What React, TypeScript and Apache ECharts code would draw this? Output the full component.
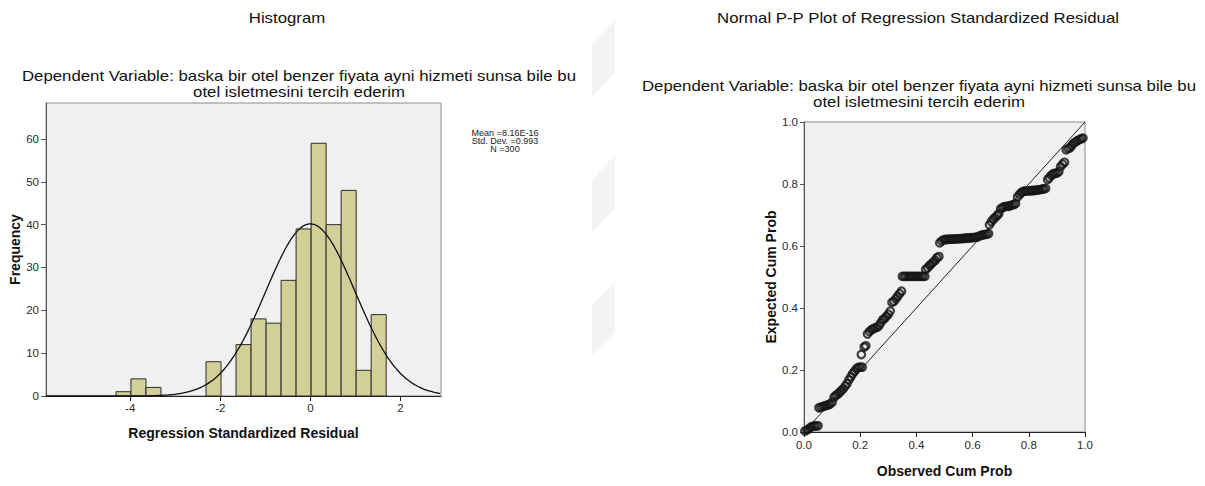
import { useEffect, useRef } from "react";
import * as echarts from "echarts";

// ---- Histogram data ----
const histCounts = [1, 4, 2, 0, 0, 0, 8, 0, 12, 18, 17, 27, 39, 59, 40, 48, 6, 19];
const binStart = -4.317;
const binWidth = 1 / 3;
const histXTicks = [-4, -2, 0, 2];
const histYTicks = [0, 10, 20, 30, 40, 50, 60];
const statMean = 8.16e-16;
const statSd = 0.993;
const statN = 300;
const statLines = ["Mean =8.16E-16", "Std. Dev. =0.993", "N =300"];

// ---- P-P plot data ----
const ppObserved = [
  0.003, 0.01, 0.017, 0.023, 0.03, 0.037, 0.043, 0.05,
  0.053, 0.06, 0.067, 0.073, 0.08, 0.087, 0.093, 0.1, 0.107, 0.113, 0.12, 0.127, 0.133, 0.14, 0.147, 0.153, 0.16, 0.167, 0.173, 0.18, 0.187, 0.193, 0.2, 0.207,
  0.204,
  0.214, 0.22,
  0.226, 0.233, 0.24, 0.247, 0.253, 0.26, 0.267, 0.273, 0.28, 0.287, 0.293, 0.3, 0.307, 0.313, 0.32, 0.327, 0.333, 0.34, 0.347,
  0.35, 0.357, 0.363, 0.37, 0.377, 0.383, 0.39, 0.397, 0.403, 0.41, 0.417, 0.423, 0.43,
  0.433, 0.44, 0.447, 0.453, 0.46, 0.467, 0.473, 0.48,
  0.483, 0.49, 0.497, 0.503, 0.51, 0.517, 0.523, 0.53, 0.537, 0.543, 0.55, 0.557, 0.563, 0.57, 0.577, 0.583, 0.59, 0.597, 0.603, 0.61, 0.617,
  0.623, 0.63, 0.637, 0.643, 0.65, 0.657,
  0.66, 0.667, 0.673, 0.68, 0.687, 0.693, 0.7, 0.707, 0.713, 0.72, 0.727, 0.733, 0.74, 0.747, 0.753,
  0.76, 0.767, 0.773, 0.78, 0.787, 0.793, 0.8, 0.807, 0.813, 0.82, 0.827, 0.833, 0.84, 0.847, 0.853, 0.86,
  0.867, 0.873, 0.88, 0.887, 0.893, 0.9, 0.907, 0.913, 0.92, 0.927,
  0.933, 0.94, 0.947, 0.953, 0.96, 0.967, 0.973, 0.98, 0.987, 0.993,
];
const ppExpected = [
  0.003, 0.006, 0.01, 0.015, 0.018, 0.019, 0.02, 0.02,
  0.078, 0.08, 0.082, 0.084, 0.086, 0.088, 0.09, 0.096, 0.112, 0.118, 0.122, 0.128, 0.134, 0.14, 0.148, 0.156, 0.168, 0.178, 0.188, 0.196, 0.204, 0.208, 0.209, 0.209,
  0.25,
  0.274, 0.278,
  0.316, 0.324, 0.33, 0.333, 0.336, 0.338, 0.343, 0.352, 0.362, 0.366, 0.373, 0.38, 0.39, 0.418, 0.422, 0.43, 0.438, 0.446, 0.454,
  0.502, 0.502, 0.502, 0.502, 0.502, 0.502, 0.502, 0.502, 0.502, 0.502, 0.502, 0.502, 0.502,
  0.524, 0.53, 0.537, 0.542, 0.548, 0.554, 0.562, 0.566,
  0.61, 0.616, 0.62, 0.621, 0.621, 0.622, 0.622, 0.622, 0.623, 0.623, 0.623, 0.624, 0.624, 0.625, 0.625, 0.626, 0.626, 0.627, 0.627, 0.628, 0.629,
  0.632, 0.634, 0.636, 0.637, 0.638, 0.64,
  0.668, 0.678, 0.686, 0.692, 0.698, 0.704, 0.72, 0.724, 0.727, 0.728, 0.728, 0.73, 0.732, 0.734, 0.737,
  0.758, 0.766, 0.772, 0.776, 0.777, 0.777, 0.778, 0.778, 0.779, 0.779, 0.78, 0.781, 0.782, 0.783, 0.784, 0.786,
  0.814, 0.82, 0.828, 0.833, 0.834, 0.835, 0.84, 0.856, 0.864, 0.87,
  0.91, 0.914, 0.917, 0.925, 0.932, 0.936, 0.94, 0.943, 0.946, 0.948,
];
const ppTicks = [0, 0.2, 0.4, 0.6, 0.8, 1.0];
const diagonal = [
  [0, 0],
  [1, 1],
];

const FONT = "'Liberation Sans', Arial, sans-serif";
const subtitle = "Dependent Variable: baska bir otel benzer fiyata ayni hizmeti sunsa bile bu\notel isletmesini tercih ederim";

export default function App() {
  const ref = useRef<HTMLDivElement>(null);

  useEffect(() => {
    if (!ref.current) return;
    const chart = echarts.init(ref.current, null, { renderer: "svg" });

    const xMin = -5.87;
    const xMax = 2.9;
    const curve: number[][] = [];
    for (let x = xMin; x <= xMax + 1e-9; x += 0.05) {
      const z = (x - statMean) / statSd;
      const y = (statN * binWidth * Math.exp(-0.5 * z * z)) / (statSd * Math.sqrt(2 * Math.PI));
      curve.push([x, y]);
    }

    const bins = histCounts
      .map((c, i) => [binStart + i * binWidth, binStart + (i + 1) * binWidth, c])
      .filter((b) => b[2] > 0);

    const ppData = ppObserved.map((x, i) => [x, ppExpected[i]]);

    const labelStyle = { color: "#2a2a2a", fontSize: 11.5, fontFamily: FONT };
    const nameStyle = { color: "#111", fontSize: 14, fontWeight: "bold" as const, fontFamily: FONT };

    const watermark = [
      [[592, 43], [615, 20], [615, 73], [592, 97]],
      [[592, 180], [615, 155], [615, 208], [592, 233]],
      [[592, 305], [615, 282], [615, 333], [592, 355]],
    ];

    const headText = (text: string, x: number, y: number) => ({
      type: "text",
      x,
      y,
      scaleX: 1.2,
      style: { text, fill: "#111", font: `14px ${FONT}`, lineHeight: 16, align: "center", verticalAlign: "middle" },
    });

    chart.setOption({
      animation: false,
      backgroundColor: "#ffffff",
      textStyle: { fontFamily: FONT },
      grid: [
        { left: 46, top: 103, width: 395, height: 293, show: true, backgroundColor: "#f0f0f0", borderColor: "#8c8c8c", borderWidth: 1 },
        { left: 804, top: 122, width: 281, height: 310, show: true, backgroundColor: "#f0f0f0", borderColor: "#8c8c8c", borderWidth: 1 },
      ],
      xAxis: [
        {
          type: "value", gridIndex: 0, min: xMin, max: xMax,
          axisLine: { show: true, onZero: false, lineStyle: { color: "#222" } },
          axisTick: { show: true, length: 5, customValues: histXTicks, lineStyle: { color: "#222" } },
          axisLabel: { customValues: histXTicks, margin: 6, ...labelStyle },
          splitLine: { show: false },
          name: "Regression Standardized Residual", nameLocation: "middle", nameGap: 30, nameTextStyle: nameStyle,
        },
        {
          type: "value", gridIndex: 1, min: 0, max: 1,
          axisLine: { show: true, onZero: false, lineStyle: { color: "#222" } },
          axisTick: { show: true, length: 5, customValues: ppTicks, lineStyle: { color: "#222" } },
          axisLabel: { customValues: ppTicks, margin: 7, formatter: (v: number) => v.toFixed(1), ...labelStyle },
          splitLine: { show: false },
          name: "Observed Cum Prob", nameLocation: "middle", nameGap: 32, nameTextStyle: nameStyle,
        },
      ],
      yAxis: [
        {
          type: "value", gridIndex: 0, min: 0, max: 68.4,
          axisLine: { show: true, onZero: false, lineStyle: { color: "#555" } },
          axisTick: { show: true, length: 5, customValues: histYTicks, lineStyle: { color: "#555" } },
          axisLabel: { customValues: histYTicks, margin: 7, ...labelStyle },
          splitLine: { show: false },
          name: "Frequency", nameLocation: "middle", nameGap: 24, nameTextStyle: nameStyle,
        },
        {
          type: "value", gridIndex: 1, min: 0, max: 1,
          axisLine: { show: true, onZero: false, lineStyle: { color: "#555" } },
          axisTick: { show: true, length: 4, customValues: ppTicks, lineStyle: { color: "#555" } },
          axisLabel: { customValues: ppTicks, margin: 6, formatter: (v: number) => v.toFixed(1), ...labelStyle },
          splitLine: { show: false },
          name: "Expected Cum Prob", nameLocation: "middle", nameGap: 26, nameTextStyle: nameStyle,
        },
      ],
      series: [
        {
          type: "custom", xAxisIndex: 0, yAxisIndex: 0, z: 2,
          data: bins,
          encode: { x: [0, 1], y: 2 },
          renderItem: (_p: any, api: any) => {
            const p0 = api.coord([api.value(0), api.value(2)]);
            const p1 = api.coord([api.value(1), 0]);
            return {
              type: "rect",
              shape: { x: p0[0], y: p0[1], width: p1[0] - p0[0], height: p1[1] - p0[1] },
              style: { fill: "#d3cf98", stroke: "#2b2b2b", lineWidth: 1 },
            };
          },
        },
        {
          type: "line", xAxisIndex: 0, yAxisIndex: 0, z: 3,
          data: curve, showSymbol: false, smooth: true,
          lineStyle: { color: "#111", width: 1.3 },
        },
        {
          type: "line", xAxisIndex: 1, yAxisIndex: 1, z: 2,
          data: diagonal, showSymbol: false,
          lineStyle: { color: "#222", width: 1 },
        },
        {
          type: "scatter", xAxisIndex: 1, yAxisIndex: 1, z: 3,
          data: ppData, symbol: "circle", symbolSize: 7.5,
          itemStyle: { color: "rgba(0,0,0,0)", borderColor: "#141414", borderWidth: 2.2 },
        },
      ],
      graphic: [
        ...watermark.map((pts) => ({
          type: "polygon", shape: { points: pts }, style: { fill: "#f4f4f4" }, silent: true, z: 0,
        })),
        headText("Histogram", 287, 18),
        headText(subtitle, 299, 84),
        headText("Normal P-P Plot of Regression Standardized Residual", 918, 18),
        headText(subtitle, 919, 94),
        { type: "text", x: 505, y: 141, style: { text: statLines.join("\n"), fill: "#222", font: `9px ${FONT}`, lineHeight: 8, align: "center", verticalAlign: "middle" } },
      ],
    });

    return () => chart.dispose();
  }, []);

  return <div ref={ref} style={{ position: "fixed", left: 0, top: 0, width: 1205, height: 486 }} />;
}
